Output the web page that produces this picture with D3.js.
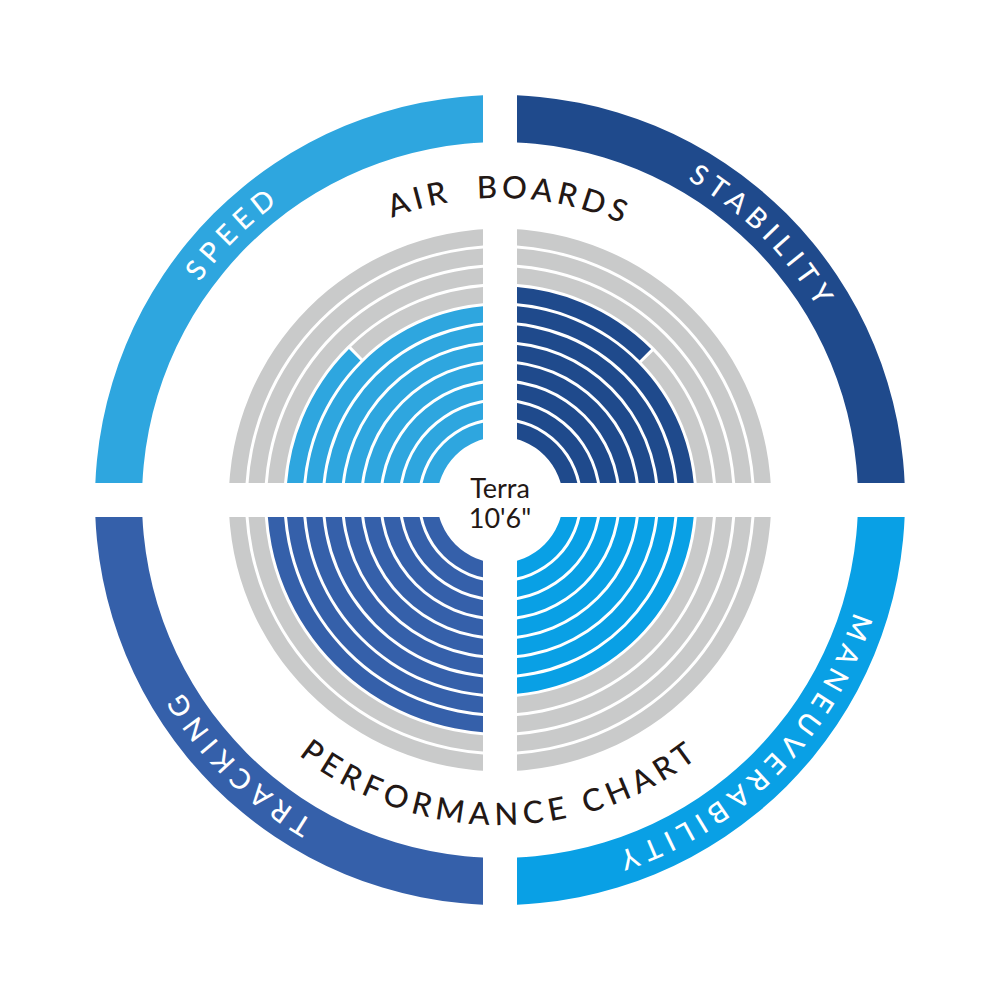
<!DOCTYPE html>
<html lang="en">
<head>
<meta charset="utf-8">
<script src="https://d3js.org/d3.v7.min.js"></script>
<style>
  body { margin: 0; background: #fff; }
  text { font-family: Lato, "Noto Sans", sans-serif; }
</style>
</head>
<body>

<div id="graph"></div>

<script>

// data
var categories = ["SPEED", "STABILITY", "MANEUVERABILITY", "TRACKING"];
var values = [7.5, 7.5, 7, 9];          // filled rings, counted from the centre
var colors = ["#2ea6df", "#1f4a8c", "#09a0e5", "#3560aa"];
var levels = 11;                         // number of rings in each quadrant
var title = "AIR  BOARDS";
var subtitle = "PERFORMANCE CHART";
var centreLines = ["Terra", "10'6\""];

var width = 1000, height = 1000,
    cx = 500, cy = 500,
    halfGap = 17;

var svg = d3.select("#graph")
  .append("svg")
    .attr("width", width)
    .attr("height", height);

var g = svg.append("g")
    .attr("transform", "translate(" + cx + "," + cy + ")");

// ring radius scale: level -> radius
var r = d3.scaleLinear()
    .domain([0, levels])
    .range([63, 63 + levels * 19.2]);
var ringWidth = 16.2;

// quadrant angle scale: index -> start angle (0 at top, clockwise)
var quad = d3.scaleLinear()
    .domain([0, 4])
    .range([-Math.PI / 2, 3 * Math.PI / 2]);
var span = Math.PI / 2;

// one clip rect per quadrant, so the gaps are straight bands
var signs = [[-1, -1], [1, -1], [1, 1], [-1, 1]];
var defs = svg.append("defs");
signs.forEach(function(s, i) {
  defs.append("clipPath")
      .attr("id", "q" + i)
    .append("rect")
      .attr("x", s[0] < 0 ? -500 : halfGap)
      .attr("y", s[1] < 0 ? -500 : halfGap)
      .attr("width", 500 - halfGap)
      .attr("height", 500 - halfGap);
});

var arc = d3.arc();

categories.forEach(function(cat, i) {
  var q = g.append("g").attr("clip-path", "url(#q" + i + ")");
  var a0 = quad(i), a1 = quad(i + 1);
  var v = values[i];

  // outer coloured band
  q.append("path")
    .attr("d", arc({innerRadius: 358, outerRadius: 405, startAngle: a0, endAngle: a1}))
    .attr("fill", colors[i]);

  // rings
  d3.range(levels).forEach(function(k) {
    var ri = r(k), ro = r(k) + ringWidth;
    if (k < Math.floor(v)) {
      q.append("path")
        .attr("d", arc({innerRadius: ri, outerRadius: ro, startAngle: a0, endAngle: a1}))
        .attr("fill", colors[i]);
    } else if (k === Math.floor(v) && v > k) {
      var am = a0 + (v - k) * span;
      var pad = 3 / ((ri + ro) / 2);
      q.append("path")
        .attr("d", arc({innerRadius: ri, outerRadius: ro, startAngle: a0, endAngle: am}))
        .attr("fill", colors[i]);
      q.append("path")
        .attr("d", arc({innerRadius: ri, outerRadius: ro, startAngle: am + pad, endAngle: a1}))
        .attr("fill", "#c9caca");
    } else {
      q.append("path")
        .attr("d", arc({innerRadius: ri, outerRadius: ro, startAngle: a0, endAngle: a1}))
        .attr("fill", "#c9caca");
    }
  });

  // label along the outer band (clockwise, tops outward)
  var mid = (a0 + a1) / 2 - Math.PI / 2;  // canvas angle
  var p = d3.path();
  p.arc(0, 0, 371, mid - Math.PI / 2, mid + Math.PI / 2, false);
  defs.append("path").attr("id", "lab" + i).attr("d", p.toString());
  g.append("text")
      .attr("fill", "#fff")
      .style("font-size", "28px")
      .style("font-weight", 500)
      .style("letter-spacing", "6.5px")
    .append("textPath")
      .attr("href", "#lab" + i)
      .attr("startOffset", "50%")
      .attr("text-anchor", "middle")
      .text(cat);
});

// title on top, clockwise
var pt = d3.path();
pt.arc(0, 0, 302, Math.PI, 2 * Math.PI, false);
defs.append("path").attr("id", "titlePath").attr("d", pt.toString());
g.append("text")
    .attr("fill", "#231815")
    .style("font-size", "31px")
    .style("font-weight", 500)
    .style("letter-spacing", "4.5px")
    .style("white-space", "pre")
  .append("textPath")
    .attr("href", "#titlePath")
    .attr("startOffset", "51%")
    .attr("text-anchor", "middle")
    .text(title);

// subtitle on the bottom, counter-clockwise so it reads upright
var ps = d3.path();
ps.arc(0, 0, 325, Math.PI, 0, true);
defs.append("path").attr("id", "subPath").attr("d", ps.toString());
g.append("text")
    .attr("fill", "#231815")
    .style("font-size", "31px")
    .style("font-weight", 500)
    .style("letter-spacing", "5.5px")
  .append("textPath")
    .attr("href", "#subPath")
    .attr("startOffset", "50%")
    .attr("text-anchor", "middle")
    .text(subtitle);

// centre label
g.selectAll(".centre")
  .data(centreLines)
  .enter()
  .append("text")
    .attr("class", "centre")
    .attr("text-anchor", "middle")
    .attr("y", function(d, i) { return -2 + i * 30; })
    .attr("fill", "#231815")
    .style("font-size", "27px")
    .text(function(d) { return d; });

</script>
</body>
</html>
